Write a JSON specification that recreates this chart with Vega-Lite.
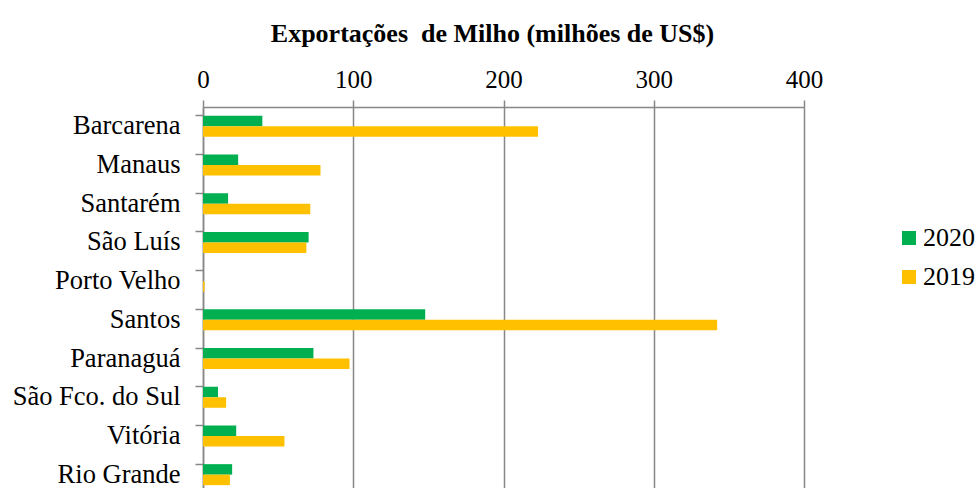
{
  "$schema": "https://vega.github.io/schema/vega-lite/v6.json",
  "autosize": {"type": "none"},
  "width": 601,
  "height": 381,
  "padding": {"left": 203, "top": 107, "right": 172, "bottom": 0},
  "background": "white",
  "title": {
    "text": "Exportações\u00a0 de Milho (milhões de US$)",
    "font": "'Times New Roman', 'Liberation Serif', serif",
    "fontSize": 26,
    "fontWeight": "bold",
    "color": "#000000",
    "anchor": "middle",
    "dx": -11,
    "offset": 20
  },
  "data": {
    "values": [
      {"porto": "Barcarena", "ano": "2020", "valor": 39.5},
      {"porto": "Barcarena", "ano": "2019", "valor": 223},
      {"porto": "Manaus", "ano": "2020", "valor": 23.4},
      {"porto": "Manaus", "ano": "2019", "valor": 78.2},
      {"porto": "Santarém", "ano": "2020", "valor": 16.7},
      {"porto": "Santarém", "ano": "2019", "valor": 71.4},
      {"porto": "São Luís", "ano": "2020", "valor": 70.3},
      {"porto": "São Luís", "ano": "2019", "valor": 68.8},
      {"porto": "Porto Velho", "ano": "2020", "valor": 0},
      {"porto": "Porto Velho", "ano": "2019", "valor": 1},
      {"porto": "Santos", "ano": "2020", "valor": 147.9},
      {"porto": "Santos", "ano": "2019", "valor": 342.2},
      {"porto": "Paranaguá", "ano": "2020", "valor": 73.5},
      {"porto": "Paranaguá", "ano": "2019", "valor": 97.5},
      {"porto": "São Fco. do Sul", "ano": "2020", "valor": 10},
      {"porto": "São Fco. do Sul", "ano": "2019", "valor": 15.4},
      {"porto": "Vitória", "ano": "2020", "valor": 22.1},
      {"porto": "Vitória", "ano": "2019", "valor": 54.2},
      {"porto": "Rio Grande", "ano": "2020", "valor": 19.4},
      {"porto": "Rio Grande", "ano": "2019", "valor": 17.9}
    ]
  },
  "mark": {"type": "bar", "stroke": null},
  "encoding": {
    "y": {
      "field": "porto",
      "type": "nominal",
      "sort": null,
      "scale": {"range": [0, 387], "paddingInner": 0.457, "paddingOuter": 0.2285},
      "axis": {
        "title": null,
        "labelFont": "'Times New Roman', 'Liberation Serif', serif",
        "labelFontSize": 26.5,
        "labelColor": "#000000",
        "labelPadding": 15,
        "tickSize": 8,
        "tickColor": "#878787",
        "tickWidth": 1.5,
        "domainColor": "#878787",
        "domainWidth": 1.5,
        "bandPosition": 0,
        "grid": false
      }
    },
    "yOffset": {
      "field": "ano",
      "type": "nominal",
      "sort": ["2020", "2019"],
      "scale": {"paddingInner": 0, "paddingOuter": 0}
    },
    "x": {
      "field": "valor",
      "type": "quantitative",
      "scale": {"domain": [0, 400], "nice": false},
      "axis": {
        "orient": "top",
        "title": null,
        "values": [0, 100, 200, 300, 400],
        "labelFlush": false,
        "labelFont": "'Times New Roman', 'Liberation Serif', serif",
        "labelFontSize": 25,
        "labelColor": "#000000",
        "labelBaseline": "alphabetic",
        "labelPadding": 13,
        "tickSize": 7,
        "tickColor": "#878787",
        "tickWidth": 1.5,
        "domainColor": "#878787",
        "domainWidth": 1.5,
        "grid": true,
        "gridColor": "#878787",
        "gridWidth": 1.5
      }
    },
    "color": {
      "field": "ano",
      "type": "nominal",
      "scale": {"domain": ["2020", "2019"], "range": ["#00B050", "#FFC000"]},
      "legend": {
        "title": null,
        "orient": "none",
        "legendX": 693,
        "legendY": 118,
        "symbolType": "square",
        "symbolSize": 196,
        "symbolStrokeWidth": 0,
        "labelFont": "'Times New Roman', 'Liberation Serif', serif",
        "labelFontSize": 26,
        "labelColor": "#000000",
        "labelOffset": 1,
        "rowPadding": 13
      }
    }
  },
  "config": {"view": {"stroke": null}}
}
